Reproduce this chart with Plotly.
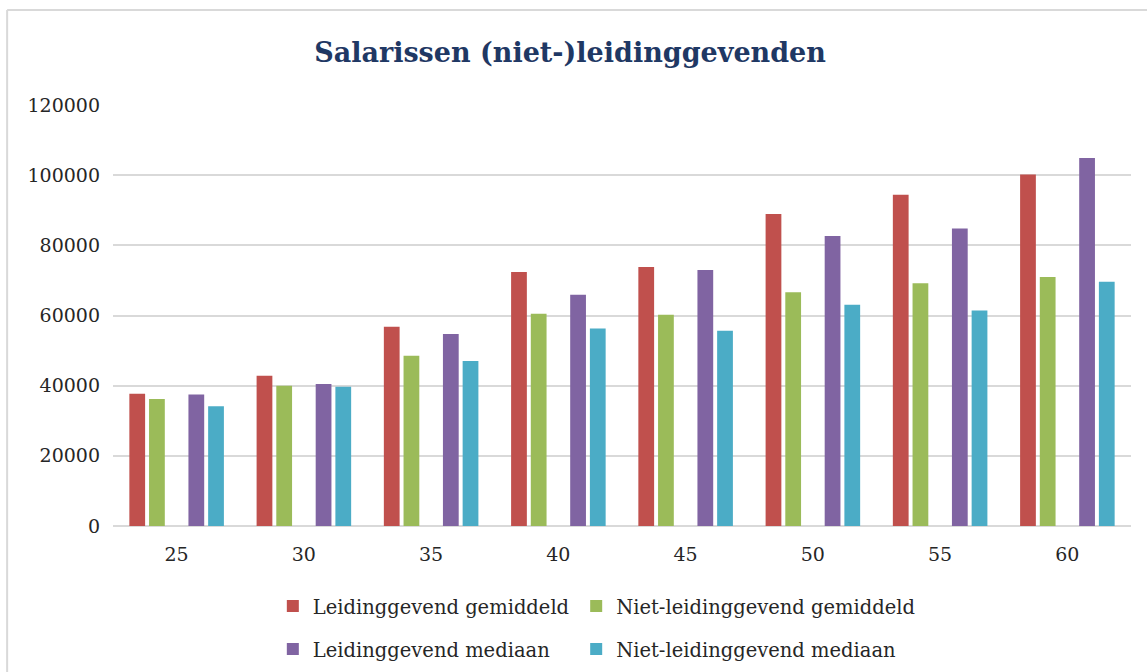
import plotly.graph_objects as go

ages = ["25", "30", "35", "40", "45", "50", "55", "60"]
leid_gem = [37700, 42800, 56800, 72400, 73800, 88900, 94400, 100200]
niet_leid_gem = [36200, 40000, 48500, 60500, 60200, 66600, 69200, 71000]
leid_med = [37450, 40500, 54700, 65900, 72950, 82650, 84800, 104900]
niet_leid_med = [34150, 39700, 47000, 56300, 55650, 63050, 61450, 69600]
spacer = [0] * len(ages)  # empty series that leaves the gap in each group
y_ticks = [0, 20000, 40000, 60000, 80000, 100000, 120000]
y_tick_text = [str(v) for v in y_ticks]

FONT = "DejaVu Serif"
TXT = "#262626"

fig = go.Figure()
fig.add_bar(x=ages, y=leid_gem, name="Leidinggevend gemiddeld",
            marker=dict(color="#C0504D", line=dict(width=0)), legend="legend")
fig.add_bar(x=ages, y=niet_leid_gem, name="Niet-leidinggevend gemiddeld",
            marker=dict(color="#9BBB59", line=dict(width=0)), legend="legend2")
fig.add_bar(x=ages, y=spacer, name="", showlegend=False, hoverinfo="skip",
            marker=dict(color="rgba(0,0,0,0)", line=dict(width=0)))
fig.add_bar(x=ages, y=leid_med, name="Leidinggevend mediaan",
            marker=dict(color="#8064A2", line=dict(width=0)), legend="legend3")
fig.add_bar(x=ages, y=niet_leid_med, name="Niet-leidinggevend mediaan",
            marker=dict(color="#4BACC6", line=dict(width=0)), legend="legend4")

legend_common = dict(orientation="h", xanchor="left", yanchor="middle",
                     font=dict(family=FONT, size=19.5, color=TXT),
                     bgcolor="rgba(0,0,0,0)", itemclick=False, borderwidth=0)

col1, col2 = 0.157, 0.455
row1, row2 = -0.191, -0.293

fig.update_layout(
    width=1147, height=672,
    margin=dict(l=113, r=16, t=105, b=146, autoexpand=False),
    paper_bgcolor="white", plot_bgcolor="white",
    barmode="group", bargap=0.226, bargroupgap=0.2,
    title=dict(text="<b>Salarissen (niet-)leidinggevenden</b>",
               x=0.497, xanchor="center", y=0.922, yanchor="middle",
               font=dict(family=FONT, size=27, color="#1F3864")),
    xaxis=dict(type="category", showgrid=False, showline=False, ticks="",
               tickfont=dict(family=FONT, size=19, color=TXT),
               ticklabelstandoff=15),
    yaxis=dict(range=[0, 120000], tickvals=y_ticks, ticktext=y_tick_text,
               showgrid=True, gridcolor="#D9D9D9", gridwidth=2, zeroline=True,
               zerolinecolor="#D9D9D9", zerolinewidth=2, showline=False,
               ticks="", tickfont=dict(family=FONT, size=19, color=TXT),
               ticklabelstandoff=12),
    legend=dict(x=col1, y=row1, **legend_common),
    legend2=dict(x=col2, y=row1, **legend_common),
    legend3=dict(x=col1, y=row2, **legend_common),
    legend4=dict(x=col2, y=row2, **legend_common),
    showlegend=True,
    shapes=[
        dict(type="line", xref="paper", yref="paper", x0=-0.104, x1=1.02,
             y0=1.2257, y1=1.2257, line=dict(color="#D9D9D9", width=2)),
        dict(type="line", xref="paper", yref="paper", x0=-0.104, x1=-0.104,
             y0=1.2257, y1=-0.36, line=dict(color="#D9D9D9", width=2)),
    ],
)

fig.write_html("out.html", config={"displayModeBar": False},
               post_script="document.body.style.margin='0';"
                           "document.body.style.overflow='hidden';")
